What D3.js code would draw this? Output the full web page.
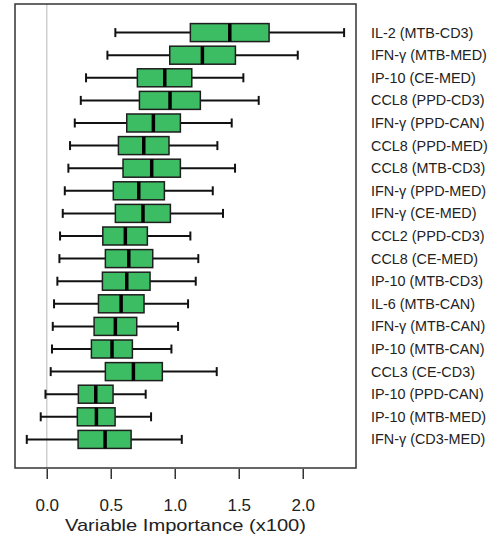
<!DOCTYPE html>
<html>
<head>
<meta charset="utf-8">
<script src="https://cdn.jsdelivr.net/npm/d3@7"></script>
<style>
  html, body { margin: 0; padding: 0; background: #fff; }
  svg { display: block; font-family: "Liberation Sans", Arial, sans-serif; }
</style>
</head>
<body>
<svg id="chart" width="499" height="539"></svg>
<script>
// Variables, ordered top to bottom
const variables = [
  "IL-2 (MTB-CD3)", "IFN-γ (MTB-MED)", "IP-10 (CE-MED)", "CCL8 (PPD-CD3)",
  "IFN-γ (PPD-CAN)", "CCL8 (PPD-MED)", "CCL8 (MTB-CD3)", "IFN-γ (PPD-MED)",
  "IFN-γ (CE-MED)", "CCL2 (PPD-CD3)", "CCL8 (CE-MED)", "IP-10 (MTB-CD3)",
  "IL-6 (MTB-CAN)", "IFN-γ (MTB-CAN)", "IP-10 (MTB-CAN)", "CCL3 (CE-CD3)",
  "IP-10 (PPD-CAN)", "IP-10 (MTB-MED)", "IFN-γ (CD3-MED)"
];
// Box statistics (variable importance x100)
const whiskerLow = [0.536, 0.474, 0.307, 0.266, 0.219, 0.182, 0.169, 0.141, 0.125, 0.104,
                    0.099, 0.083, 0.057, 0.047, 0.041, 0.031, -0.010, -0.047, -0.156];
const q1         = [1.122, 0.961, 0.708, 0.724, 0.625, 0.560, 0.596, 0.520, 0.536, 0.438,
                    0.458, 0.435, 0.404, 0.370, 0.349, 0.458, 0.247, 0.239, 0.245];
const median     = [1.430, 1.216, 0.922, 0.963, 0.833, 0.758, 0.820, 0.719, 0.752, 0.614,
                    0.641, 0.625, 0.581, 0.536, 0.510, 0.677, 0.383, 0.388, 0.456];
const q3         = [1.737, 1.474, 1.133, 1.200, 1.044, 0.955, 1.044, 0.919, 0.966, 0.786,
                    0.828, 0.807, 0.760, 0.703, 0.669, 0.903, 0.518, 0.534, 0.659];
const whiskerHigh= [2.323, 1.961, 1.536, 1.656, 1.445, 1.333, 1.471, 1.297, 1.377, 1.122,
                    1.184, 1.164, 1.104, 1.026, 0.974, 1.328, 0.773, 0.815, 1.055];
const xTicks = [0.0, 0.5, 1.0, 1.5, 2.0];
const xTitle = "Variable Importance (x100)";

const rows = variables.map((name, i) => ({
  name, lo: whiskerLow[i], q1: q1[i], med: median[i], q3: q3[i], hi: whiskerHigh[i]
}));

const svg = d3.select("#chart");
const plot = { left: 15, right: 356, top: 4, bottom: 468 };

const x = d3.scaleLinear().domain([-0.248, 2.416]).range([plot.left, plot.right]);
const y = d3.scalePoint().domain(variables).range([plot.top, plot.bottom]).padding(1.265);
const boxH = 18, capH = 9;

// zero reference line
svg.append("line")
  .attr("x1", x(0)).attr("x2", x(0))
  .attr("y1", plot.top).attr("y2", plot.bottom)
  .attr("stroke", "#cfcfcf").attr("stroke-width", 1.5);

const g = svg.append("g").selectAll("g").data(rows).join("g")
  .attr("transform", d => `translate(0,${y(d.name)})`);

// whiskers
g.append("line").attr("x1", d => x(d.lo)).attr("x2", d => x(d.q1))
  .attr("stroke", "#111").attr("stroke-width", 2);
g.append("line").attr("x1", d => x(d.q3)).attr("x2", d => x(d.hi))
  .attr("stroke", "#111").attr("stroke-width", 2);
// staples
g.append("line").attr("x1", d => x(d.lo)).attr("x2", d => x(d.lo))
  .attr("y1", -capH / 2).attr("y2", capH / 2)
  .attr("stroke", "#111").attr("stroke-width", 2);
g.append("line").attr("x1", d => x(d.hi)).attr("x2", d => x(d.hi))
  .attr("y1", -capH / 2).attr("y2", capH / 2)
  .attr("stroke", "#111").attr("stroke-width", 2);
// boxes
g.append("rect")
  .attr("x", d => x(d.q1)).attr("width", d => x(d.q3) - x(d.q1))
  .attr("y", -boxH / 2).attr("height", boxH)
  .attr("fill", "#3dbd63").attr("stroke", "#1e1e1e").attr("stroke-width", 1.5);
// medians
g.append("line").attr("x1", d => x(d.med)).attr("x2", d => x(d.med))
  .attr("y1", -boxH / 2).attr("y2", boxH / 2)
  .attr("stroke", "#000").attr("stroke-width", 3.5);

// labels on the right
svg.append("g").selectAll("text").data(variables).join("text")
  .attr("x", 371).attr("y", d => y(d))
  .attr("dy", "0.35em")
  .attr("font-size", 14.4).attr("fill", "#222")
  .text(d => d);

// frame
svg.append("rect")
  .attr("x", plot.left).attr("y", plot.top)
  .attr("width", plot.right - plot.left).attr("height", plot.bottom - plot.top)
  .attr("fill", "none").attr("stroke", "#333").attr("stroke-width", 1.5);

// x axis
const axis = d3.axisBottom(x).tickValues(xTicks).tickFormat(d3.format(".1f"))
  .tickSize(10).tickPadding(20);
const ax = svg.append("g").attr("transform", `translate(0,${plot.bottom + 1})`).call(axis);
ax.select(".domain").remove();
ax.selectAll(".tick line").attr("stroke", "#333").attr("stroke-width", 1.5);
ax.selectAll(".tick text").attr("font-size", 17).attr("fill", "#222")
  .attr("font-family", "Liberation Sans, Arial, sans-serif");

svg.append("text")
  .attr("x", (plot.left + plot.right) / 2).attr("y", 530.5)
  .attr("text-anchor", "middle").attr("font-size", 17).attr("fill", "#222")
  .attr("textLength", 241).attr("lengthAdjust", "spacingAndGlyphs")
  .text(xTitle);
</script>
</body>
</html>
